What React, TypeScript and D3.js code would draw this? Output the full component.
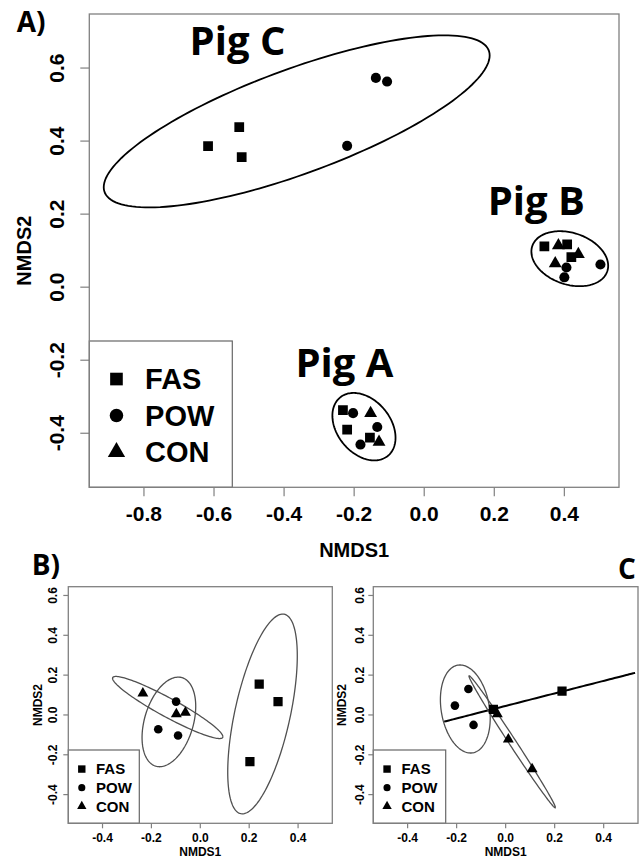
import { useEffect, useRef } from "react"
import * as d3 from "d3"

type Pt = { x: number; y: number; g: string }
type Ell = { cx: number; cy: number; sxx: number; syy: number; sxy: number }

const GROUPS = ["FAS", "POW", "CON"]

// axis ticks
const TICKS_A_X = [-0.8, -0.6, -0.4, -0.2, 0.0, 0.2, 0.4]
const TICKS_A_Y = [-0.4, -0.2, 0.0, 0.2, 0.4, 0.6]
const TICKS_BC_X = [-0.4, -0.2, 0.0, 0.2, 0.4]
const TICKS_BC_Y = [-0.4, -0.2, 0.0, 0.2, 0.4, 0.6]

// panel A: NMDS scores per pig
const pigC: Pt[] = [
  { x: -0.617, y: 0.386, g: "FAS" },
  { x: -0.528, y: 0.438, g: "FAS" },
  { x: -0.521, y: 0.356, g: "FAS" },
  { x: -0.138, y: 0.573, g: "POW" },
  { x: -0.106, y: 0.563, g: "POW" },
  { x: -0.22, y: 0.387, g: "POW" },
]
const pigB: Pt[] = [
  { x: 0.343, y: 0.112, g: "FAS" },
  { x: 0.408, y: 0.117, g: "FAS" },
  { x: 0.42, y: 0.082, g: "FAS" },
  { x: 0.383, y: 0.114, g: "CON" },
  { x: 0.44, y: 0.09, g: "CON" },
  { x: 0.374, y: 0.065, g: "CON" },
  { x: 0.406, y: 0.054, g: "POW" },
  { x: 0.503, y: 0.062, g: "POW" },
  { x: 0.4, y: 0.027, g: "POW" },
]
const pigA: Pt[] = [
  { x: -0.232, y: -0.337, g: "FAS" },
  { x: -0.22, y: -0.39, g: "FAS" },
  { x: -0.155, y: -0.412, g: "FAS" },
  { x: -0.203, y: -0.345, g: "POW" },
  { x: -0.134, y: -0.383, g: "POW" },
  { x: -0.182, y: -0.431, g: "POW" },
  { x: -0.153, y: -0.345, g: "CON" },
  { x: -0.129, y: -0.424, g: "CON" },
]
// ellipse centre and covariance, NMDS units
const ellPigC: Ell = { cx: -0.364, cy: 0.454, sxx: 0.3034, syy: 0.05551, sxy: 0.09932 }
const ellPigB: Ell = { cx: 0.4155, cy: 0.078, sxx: 0.01201, syy: 0.005675, sxy: -0.002124 }
const ellPigA: Ell = { cx: -0.172, cy: -0.382, sxx: 0.008121, syy: 0.008527, sxy: -0.00272 }
const PIG_LABELS = ["Pig C", "Pig B", "Pig A"]
const PIG_LABEL_X = [-0.533, 0.32, -0.228]
const PIG_LABEL_Y = [0.636, 0.198, -0.245]

// panel B
const pointsB: Pt[] = [
  { x: 0.241, y: 0.155, g: "FAS" },
  { x: 0.318, y: 0.067, g: "FAS" },
  { x: 0.203, y: -0.234, g: "FAS" },
  { x: -0.099, y: 0.067, g: "POW" },
  { x: -0.172, y: -0.072, g: "POW" },
  { x: -0.091, y: -0.103, g: "POW" },
  { x: -0.235, y: 0.108, g: "CON" },
  { x: -0.098, y: 0.005, g: "CON" },
  { x: -0.061, y: 0.012, g: "CON" },
]
const ellB: Ell[] = [
  { cx: 0.2545, cy: 0.005, sxx: 0.02024, syy: 0.2515, sxy: 0.04146 },
  { cx: -0.1285, cy: -0.035, sxx: 0.01205, syy: 0.0506, sxy: 0.0086 },
  { cx: -0.1333, cy: 0.0375, sxx: 0.0509, syy: 0.0243, sxy: -0.03303 },
]

// panel C
const pointsC: Pt[] = [
  { x: 0.23, y: 0.12, g: "FAS" },
  { x: -0.05, y: 0.028, g: "FAS" },
  { x: -0.152, y: 0.13, g: "POW" },
  { x: -0.207, y: 0.047, g: "POW" },
  { x: -0.131, y: -0.05, g: "POW" },
  { x: -0.034, y: 0.005, g: "CON" },
  { x: 0.011, y: -0.122, g: "CON" },
  { x: 0.108, y: -0.272, g: "CON" },
]
const ellC: Ell[] = [
  { cx: 0.1386, cy: 0.089, sxx: 0.1516, syy: 0.015, sxy: 0.0477 },
  { cx: -0.1646, cy: 0.03, sxx: 0.01033, syy: 0.04885, sxy: -0.004736 },
  { cx: 0.0268, cy: -0.135, sxx: 0.031118, syy: 0.10998, sxy: -0.05823 },
]

const SYMBOLS: Record<string, d3.SymbolType> = {
  FAS: d3.symbolSquare,
  POW: d3.symbolCircle,
  CON: d3.symbolTriangle,
}

const AXIS_FONT = "'Liberation Sans', Arial, sans-serif"
const TITLE_FONT = "'Open Sans', sans-serif"

function ellipsePoints(e: Ell, n = 160): [number, number][] {
  const l11 = Math.sqrt(e.sxx)
  const l21 = e.sxy / l11
  const l22 = Math.sqrt(Math.max(0, e.syy - l21 * l21))
  return d3.range(n + 1).map((i) => {
    const t = (2 * Math.PI * i) / n
    return [e.cx + l11 * Math.cos(t), e.cy + l21 * Math.cos(t) + l22 * Math.sin(t)]
  })
}

interface PanelCfg {
  id: string
  box: [number, number, number, number] // left, top, right, bottom
  xDom: [number, number]
  yDom: [number, number]
  xTicks: number[]
  yTicks: number[]
  tickFont: number
  tickLen: number
  yLabelOff: number
  xLabelOff: number
  xTitleOff: number
  yTitleOff: number
  titleFont: number
  legend: [number, number] // right, top of legend box
  legendFont: number
  legendRow: number
  legendSym: [number, number, number]
  ptSym: [number, number, number]
}

export default function App() {
  const ref = useRef<SVGSVGElement>(null)

  useEffect(() => {
    if (!ref.current) return
    const svg = d3.select(ref.current)
    svg.selectAll("*").remove()

    const drawPanel = (cfg: PanelCfg, points: Pt[], ells: Ell[], ellStyle: (i: number) => [string, number]) => {
      const [l, t, r, b] = cfg.box
      const x = d3.scaleLinear().domain(cfg.xDom).range([l, r])
      const y = d3.scaleLinear().domain(cfg.yDom).range([b, t])
      const g = svg.append("g")

      const clipId = "clip" + cfg.id
      svg.append("clipPath").attr("id", clipId)
        .append("rect").attr("x", l).attr("y", t).attr("width", r - l).attr("height", b - t)

      // ticks
      g.selectAll(".xt").data(cfg.xTicks).enter().append("line")
        .attr("x1", (d) => x(d)).attr("x2", (d) => x(d))
        .attr("y1", b).attr("y2", b + cfg.tickLen)
        .attr("stroke", "#808080").attr("stroke-width", 1.2)
      g.selectAll(".xl").data(cfg.xTicks).enter().append("text")
        .attr("x", (d) => x(d)).attr("y", b + cfg.xLabelOff)
        .attr("text-anchor", "middle").attr("font-family", AXIS_FONT)
        .attr("font-weight", "bold").attr("font-size", cfg.tickFont)
        .text((d) => d.toFixed(1))
      g.selectAll(".yt").data(cfg.yTicks).enter().append("line")
        .attr("x1", l - cfg.tickLen).attr("x2", l)
        .attr("y1", (d) => y(d)).attr("y2", (d) => y(d))
        .attr("stroke", "#808080").attr("stroke-width", 1.2)
      g.selectAll(".yl").data(cfg.yTicks).enter().append("text")
        .attr("transform", (d) => `translate(${l - cfg.yLabelOff},${y(d)}) rotate(-90)`)
        .attr("text-anchor", "middle").attr("font-family", AXIS_FONT)
        .attr("font-weight", "bold").attr("font-size", cfg.tickFont)
        .text((d) => d.toFixed(1))

      g.append("text")
        .attr("x", (l + r) / 2).attr("y", b + cfg.xTitleOff)
        .attr("text-anchor", "middle").attr("font-family", AXIS_FONT)
        .attr("font-weight", "bold").attr("font-size", cfg.titleFont)
        .text("NMDS1")
      g.append("text")
        .attr("transform", `translate(${l - cfg.yTitleOff},${(t + b) / 2}) rotate(-90)`)
        .attr("text-anchor", "middle").attr("font-family", AXIS_FONT)
        .attr("font-weight", "bold").attr("font-size", cfg.titleFont)
        .text("NMDS2")

      // ellipses
      const line = d3.line<[number, number]>().x((d) => x(d[0])).y((d) => y(d[1]))
      const eg = g.append("g").attr("clip-path", `url(#${clipId})`)
      ells.forEach((e, i) => {
        const [col, w] = ellStyle(i)
        eg.append("path").attr("d", line(ellipsePoints(e)))
          .attr("fill", "none").attr("stroke", col).attr("stroke-width", w)
      })

      // points
      const symSize = (gr: string) => cfg.ptSym[GROUPS.indexOf(gr)]
      eg.selectAll(".pt").data(points).enter().append("path")
        .attr("transform", (d) => `translate(${x(d.x)},${y(d.y)})`)
        .attr("d", (d) => d3.symbol(SYMBOLS[d.g], symSize(d.g))())
        .attr("fill", "#000")

      // legend
      const [lr, lt] = cfg.legend
      g.append("rect").attr("x", l).attr("y", lt).attr("width", lr - l).attr("height", b - lt)
        .attr("fill", "#fff").attr("stroke", "#666").attr("stroke-width", 1.2)
      const rowY = (i: number) => lt + (b - lt) * 0.26 + i * cfg.legendRow
      const symX = l + (lr - l) * 0.19
      GROUPS.forEach((gr, i) => {
        g.append("path")
          .attr("transform", `translate(${symX},${rowY(i)})`)
          .attr("d", d3.symbol(SYMBOLS[gr], cfg.legendSym[i])())
          .attr("fill", "#000")
        g.append("text")
          .attr("x", l + (lr - l) * 0.39).attr("y", rowY(i))
          .attr("dy", "0.36em")
          .attr("font-family", AXIS_FONT).attr("font-weight", "bold")
          .attr("font-size", cfg.legendFont)
          .text(gr)
      })

      // box
      g.append("rect").attr("x", l).attr("y", t).attr("width", r - l).attr("height", b - t)
        .attr("fill", "none").attr("stroke", "#808080").attr("stroke-width", 1.3)

      return { x, y, g }
    }

    const cfgA: PanelCfg = {
      id: "A", box: [89.3, 14, 619, 487.3], xDom: [-0.956, 0.556], yDom: [-0.548, 0.748],
      xTicks: TICKS_A_X, yTicks: TICKS_A_Y, tickFont: 21, tickLen: 9,
      yLabelOff: 25.8, xLabelOff: 33.4, xTitleOff: 69.4, yTitleOff: 58.7, titleFont: 20,
      legend: [232.3, 341], legendFont: 29, legendRow: 36.5,
      legendSym: [160, 143, 130], ptSym: [95, 80, 72],
    }
    const pa = drawPanel(cfgA, [...pigC, ...pigB, ...pigA], [ellPigC, ellPigB, ellPigA], () => ["#000", 1.8])
    PIG_LABELS.forEach((lab, i) => {
      pa.g.append("text")
        .attr("x", pa.x(PIG_LABEL_X[i])).attr("y", pa.y(PIG_LABEL_Y[i]))
        .attr("text-anchor", "middle").attr("font-family", TITLE_FONT)
        .attr("font-weight", 700).attr("font-size", 40)
        .text(lab)
    })

    const cfgB: PanelCfg = {
      id: "B", box: [68.3, 586.7, 332.3, 823.3], xDom: [-0.54, 0.54], yDom: [-0.544, 0.644],
      xTicks: TICKS_BC_X, yTicks: TICKS_BC_Y, tickFont: 12, tickLen: 5,
      yLabelOff: 11.6, xLabelOff: 18.4, xTitleOff: 33, yTitleOff: 26.6, titleFont: 12,
      legend: [139.3, 750], legendFont: 15, legendRow: 18.6,
      legendSym: [55, 40, 38], ptSym: [85, 58, 52],
    }
    drawPanel(cfgB, pointsB, ellB, () => ["#505050", 1.3])

    const cfgC: PanelCfg = { ...cfgB, id: "C", box: [373.3, 586.7, 638, 823.3], legend: [445.7, 750], yLabelOff: 9.3, yTitleOff: 27 }
    drawPanel(cfgC, pointsC, ellC, (i) => (i === 0 ? ["#000", 2] : ["#505050", 1.3]))

    // panel letters
    const letters: [string, number, number][] = [["A)", 16.7, 32], ["B)", 31.7, 574.5], ["C", 618, 579]]
    letters.forEach(([s, lx, ly]) => {
      svg.append("text").attr("x", lx).attr("y", ly)
        .attr("font-family", TITLE_FONT).attr("font-weight", 700).attr("font-size", 28)
        .text(s)
    })
  }, [])

  return (
    <svg
      ref={ref}
      width={639}
      height={859}
      style={{ position: "absolute", left: 0, top: 0, background: "#fff" }}
    />
  )
}
